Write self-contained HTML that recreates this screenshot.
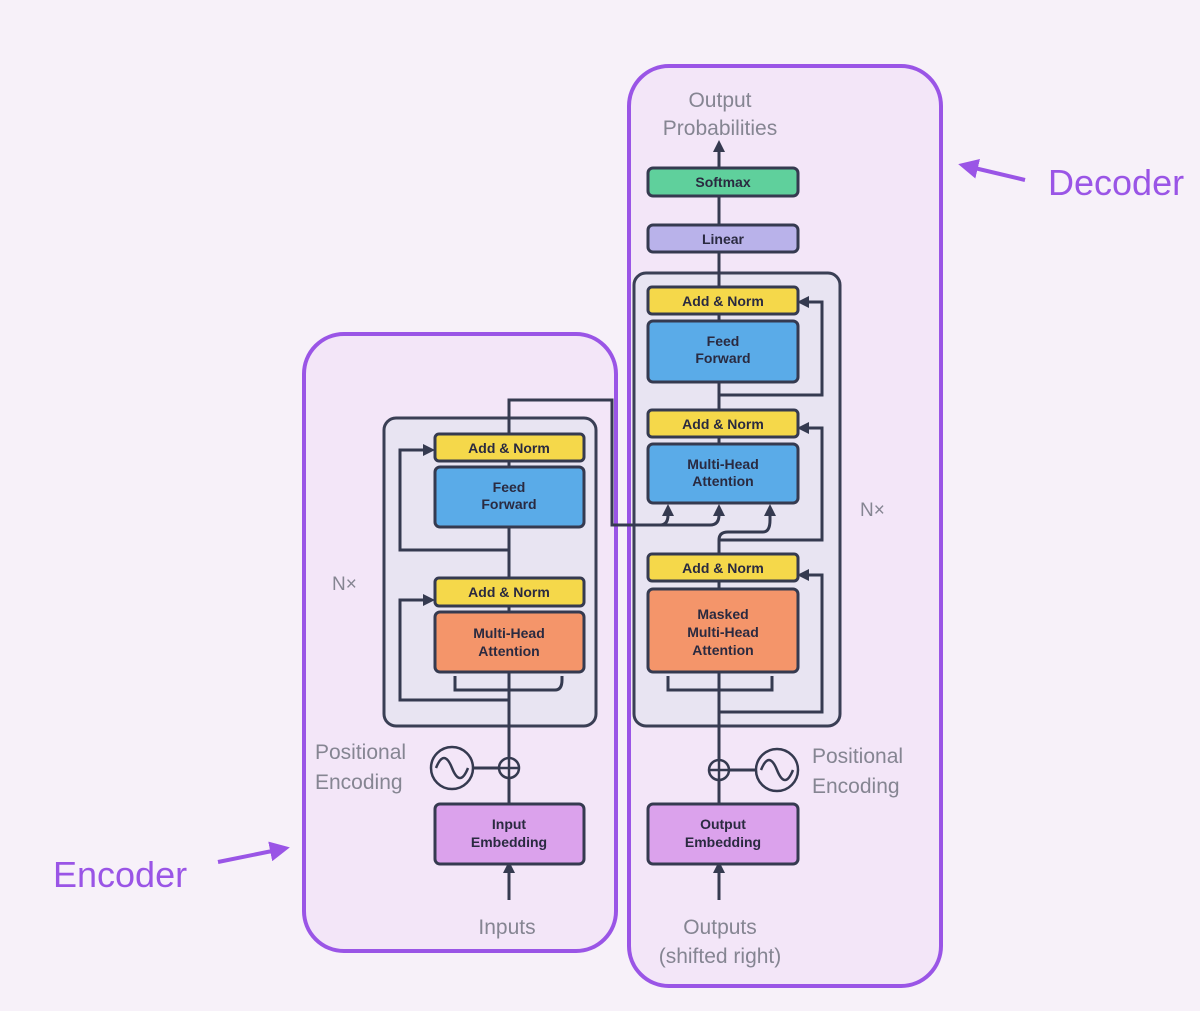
<!DOCTYPE html>
<html><head><style>
html,body{margin:0;padding:0;background:#f7f1f9;}
svg{display:block;font-family:"Liberation Sans",sans-serif;}
.b{font-weight:bold;font-size:14px;fill:#2a2a40;text-anchor:middle;}
.g{font-size:21px;fill:#858592;}
</style></head><body>
<svg width="1200" height="1011" viewBox="0 0 1200 1011" xmlns="http://www.w3.org/2000/svg">
<defs><marker id="a" markerWidth="4" markerHeight="4" refX="3" refY="2" orient="auto"><path d="M0,0L4,2L0,4z" fill="#353a50"/></marker>
<marker id="p" markerWidth="5" markerHeight="5" refX="3" refY="2.5" orient="auto"><path d="M0,0L5,2.5L0,5z" fill="#9a55e6"/></marker></defs>
<rect width="1200" height="1011" fill="#f7f1f9"/>
<rect x="304" y="334" width="312" height="617" rx="40" fill="#f3e6f8" stroke="#9a55e6" stroke-width="4"/>
<rect x="629" y="66" width="312" height="920" rx="40" fill="#f3e6f8" stroke="#9a55e6" stroke-width="4"/>
<rect x="384" y="418" width="212" height="308" rx="12" fill="#e8e4f2" stroke="#3a3f55" stroke-width="3"/>
<rect x="634" y="273" width="206" height="453" rx="12" fill="#e8e4f2" stroke="#3a3f55" stroke-width="3"/>
<g stroke="#353a50" stroke-width="3" fill="none">
<path d="M509,900V864" marker-end="url(#a)"/>
<path d="M509,804V672"/>
<path d="M509,700H400V600H432" marker-end="url(#a)"/>
<path d="M455,676V690Q455,690 465,690H555Q562,690 562,680V676"/>
<path d="M509,612V606M509,578V527"/>
<path d="M509,550H400V450H432" marker-end="url(#a)"/>
<path d="M509,467V461M509,434V400H612V525H630"/>
<path d="M472,768H499"/>
<path d="M719,900V864" marker-end="url(#a)"/>
<path d="M719,804V672"/>
<path d="M719,712H822V575H800" marker-end="url(#a)"/>
<path d="M668,676V690H772V676"/>
<path d="M719,589V581M719,554V540Q719,532 728,532H763Q770,532 770,520V507" marker-end="url(#a)"/>
<path d="M719,540H822V428H800" marker-end="url(#a)"/>
<path d="M612,525H660Q668,525 668,515V507" marker-end="url(#a)"/>
<path d="M660,525H710Q719,525 719,515V507" marker-end="url(#a)"/>
<path d="M719,444V437M719,410V382"/>
<path d="M719,395H822V302H800" marker-end="url(#a)"/>
<path d="M719,321V314M719,287V252M719,225V196M719,168V143" marker-end="url(#a)"/>
<path d="M729,770H757"/>
</g>
<g stroke="#353a50" stroke-width="2.5" fill="#f3e6f8">
<circle cx="509" cy="768" r="10"/><path d="M499,768H519M509,758V778" fill="none"/>
<circle cx="452" cy="768" r="21"/><path d="M436,768Q444,748 452,768T468,768" fill="none"/>
<circle cx="719" cy="770" r="10"/><path d="M709,770H729M719,760V780" fill="none"/>
<circle cx="777" cy="770" r="21"/><path d="M761,770Q769,750 777,770T793,770" fill="none"/>
</g>
<g stroke="#353a50" stroke-width="3">
<rect x="435" y="434" width="149" height="27" rx="4" fill="#f5d84a"/>
<rect x="435" y="467" width="149" height="60" rx="5" fill="#5aabe8"/>
<rect x="435" y="578" width="149" height="28" rx="4" fill="#f5d84a"/>
<rect x="435" y="612" width="149" height="60" rx="5" fill="#f4956a"/>
<rect x="435" y="804" width="149" height="60" rx="5" fill="#dba2ec"/>
<rect x="648" y="168" width="150" height="28" rx="5" fill="#5fd09c"/>
<rect x="648" y="225" width="150" height="27" rx="5" fill="#b9b2ea"/>
<rect x="648" y="287" width="150" height="27" rx="4" fill="#f5d84a"/>
<rect x="648" y="321" width="150" height="61" rx="5" fill="#5aabe8"/>
<rect x="648" y="410" width="150" height="27" rx="4" fill="#f5d84a"/>
<rect x="648" y="444" width="150" height="59" rx="5" fill="#5aabe8"/>
<rect x="648" y="554" width="150" height="27" rx="4" fill="#f5d84a"/>
<rect x="648" y="589" width="150" height="83" rx="5" fill="#f4956a"/>
<rect x="648" y="804" width="150" height="60" rx="5" fill="#dba2ec"/>
</g>
<g class="b">
<text x="509" y="453">Add &amp; Norm</text>
<text x="509" y="492">Feed</text><text x="509" y="509">Forward</text>
<text x="509" y="597">Add &amp; Norm</text>
<text x="509" y="638">Multi-Head</text><text x="509" y="656">Attention</text>
<text x="509" y="829">Input</text><text x="509" y="847">Embedding</text>
<text x="723" y="187">Softmax</text>
<text x="723" y="244">Linear</text>
<text x="723" y="306">Add &amp; Norm</text>
<text x="723" y="346">Feed</text><text x="723" y="363">Forward</text>
<text x="723" y="429">Add &amp; Norm</text>
<text x="723" y="469">Multi-Head</text><text x="723" y="486">Attention</text>
<text x="723" y="573">Add &amp; Norm</text>
<text x="723" y="619">Masked</text><text x="723" y="637">Multi-Head</text><text x="723" y="655">Attention</text>
<text x="723" y="829">Output</text><text x="723" y="847">Embedding</text>
</g>
<g class="g">
<text x="720" y="107" text-anchor="middle">Output</text>
<text x="720" y="135" text-anchor="middle">Probabilities</text>
<text x="507" y="934" text-anchor="middle">Inputs</text>
<text x="720" y="934" text-anchor="middle">Outputs</text>
<text x="720" y="963" text-anchor="middle">(shifted right)</text>
<text x="315" y="759">Positional</text><text x="315" y="789">Encoding</text>
<text x="812" y="763">Positional</text><text x="812" y="793">Encoding</text>
<text x="332" y="590" font-size="19">N×</text>
<text x="860" y="516" font-size="19">N×</text>
</g>
<text x="1048" y="195" font-size="36" fill="#9a55e6">Decoder</text>
<text x="53" y="887" font-size="36" fill="#9a55e6">Encoder</text>
<g stroke="#9a55e6" stroke-width="4" fill="none">
<path d="M1025,180L966,166" marker-end="url(#p)"/>
<path d="M218,862L282,849" marker-end="url(#p)"/>
</g>
</svg>
</body></html>
